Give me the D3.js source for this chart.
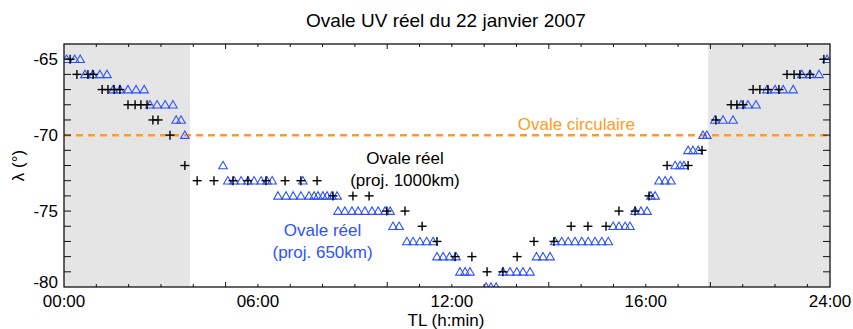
<!DOCTYPE html>
<html>
<head>
<meta charset="utf-8">
<script src="https://cdn.jsdelivr.net/npm/d3@7"></script>
<style>
  html, body { margin: 0; padding: 0; background: #fff; }
  text { font-family: "Liberation Sans", Arial, Helvetica, sans-serif; }
</style>
</head>
<body>
<svg id="chart" width="853" height="329"></svg>
<script>
// Local time (hours) and latitude (deg) of the oval boundary, projection at 1000 km
const tl1000 = [
  0.19,
  0.40, 0.74, 0.90,
  1.18, 1.36, 1.55, 1.73,
  1.98, 2.20, 2.38, 2.57,
  2.75, 2.91,
  3.28,
  3.74,
  4.12, 4.64, 5.23, 5.69, 6.25, 6.84, 7.33, 7.83,
  8.32, 8.94, 9.44,
  9.99, 10.55,
  11.08,
  11.54,
  12.10, 12.62,
  13.09, 13.58,
  14.02,
  14.54, 15.16,
  15.69, 16.21, 16.77,
  17.17, 17.67,
  18.10,
  18.66, 19.31,
  19.74,
  20.17,
  20.64, 20.82, 21.01,
  21.32, 21.53, 21.78, 22.12,
  22.37, 22.59, 22.77, 23.08,
  23.51
];
const lat1000 = [
  -65,
  -66, -66, -66,
  -67, -67, -67, -67,
  -68, -68, -68, -68,
  -69, -69,
  -70,
  -72,
  -73, -73, -73, -73, -73, -73, -73, -73,
  -74, -74, -74,
  -75, -75,
  -76,
  -77,
  -78, -78,
  -79, -79,
  -78,
  -77, -77,
  -76, -76, -76,
  -75, -75,
  -74,
  -72, -72,
  -71,
  -69,
  -68, -68, -68,
  -67, -67, -67, -67,
  -66, -66, -66, -66,
  -65
];

// Same boundary, projection at 650 km
const tl650 = [
  0.08, 0.33, 0.50,
  0.65, 0.89, 1.11, 1.33,
  1.52, 1.73, 1.98, 2.23, 2.48,
  2.66, 2.88, 3.13, 3.37,
  3.47, 3.62,
  3.74,
  4.92,
  5.07, 5.26, 5.48, 5.69, 5.88, 6.10, 6.28, 6.44, 7.39,
  6.62, 6.87, 7.09, 7.33, 7.58, 7.74, 7.86, 8.01, 8.14, 8.29, 8.45,
  8.48, 8.69, 8.91, 9.10, 9.31, 9.53, 9.72, 9.93, 10.09,
  10.18, 10.37,
  10.61, 10.80, 11.01, 11.22, 11.42,
  11.54, 11.73, 11.93, 12.13,
  12.25, 12.41, 12.56,
  13.06, 13.21, 13.37,
  13.58, 13.80, 14.01, 14.20, 14.42,
  14.62, 14.82, 15.04,
  15.19, 15.40, 15.60, 15.81, 16.02, 16.22, 16.43, 16.64, 16.84,
  16.99, 17.17, 17.36, 17.51,
  17.67, 17.85, 18.04,
  18.16, 18.29,
  18.41, 18.60, 18.78,
  18.91, 19.06, 19.18,
  19.31, 19.46, 19.62,
  19.77, 19.89,
  20.14, 20.39, 20.70,
  20.95, 21.16, 21.41,
  21.75, 22.00, 22.25, 22.56,
  22.83, 23.08, 23.36,
  23.61
];
const lat650 = [
  -65, -65, -65,
  -66, -66, -66, -66,
  -67, -67, -67, -67, -67,
  -68, -68, -68, -68,
  -69, -69,
  -70,
  -72,
  -73, -73, -73, -73, -73, -73, -73, -73, -73,
  -74, -74, -74, -74, -74, -74, -74, -74, -74, -74, -74,
  -75, -75, -75, -75, -75, -75, -75, -75, -75,
  -76, -76,
  -77, -77, -77, -77, -77,
  -78, -78, -78, -78,
  -79, -79, -79,
  -80, -80, -80,
  -79, -79, -79, -79, -79,
  -78, -78, -78,
  -77, -77, -77, -77, -77, -77, -77, -77, -77,
  -76, -76, -76, -76,
  -75, -75, -75,
  -74, -74,
  -73, -73, -73,
  -72, -72, -72,
  -71, -71, -71,
  -70, -70,
  -69, -69, -69,
  -68, -68, -68,
  -67, -67, -67, -67,
  -66, -66, -66,
  -65
];

// Circular oval latitude
const circularLat = -70;

// Shaded local-time intervals (hours)
const shadeStart = [0, 19.93];
const shadeEnd = [3.9, 23.7];

// Axis ticks and labels
const xTickLabelHours = [0, 6, 12, 18, 24];
const xTickLabels = ["00:00", "06:00", "12:00", "16:00", "24:00"];
const yTickLabelValues = [-65, -70, -75, -80];

const title = "Ovale UV réel du 22 janvier 2007";
const xTitle = "TL (h:min)";
const yTitle = "λ (°)";

// ---- drawing ----
const W = 853, H = 329;
const margin = { left: 64, right: 23, top: 44, bottom: 42 };
const x0 = margin.left, x1 = W - margin.right;
const y0 = margin.top, y1 = H - margin.bottom;

const xMax = 23.7;
const x = d3.scaleLinear().domain([0, xMax]).range([x0, x1]);
const y = d3.scaleLinear().domain([-80, -64]).range([y1, y0]);

const BLUE = "#2f52ff";
const ORANGE = "#ff9b26";
const GREY = "#e5e5e5";
const FS = 17;

const svg = d3.select("#chart");

svg.append("defs").append("clipPath").attr("id", "plot-clip")
  .append("rect").attr("x", x0).attr("y", y0).attr("width", x1 - x0).attr("height", y1 - y0);

// shaded bands
svg.append("g").selectAll("rect")
  .data(d3.range(shadeStart.length))
  .join("rect")
  .attr("x", i => x(shadeStart[i]))
  .attr("width", i => x(shadeEnd[i]) - x(shadeStart[i]))
  .attr("y", y0)
  .attr("height", y1 - y0)
  .attr("fill", GREY);

// circular oval reference line
svg.append("line")
  .attr("x1", x0).attr("x2", x1)
  .attr("y1", y(circularLat)).attr("y2", y(circularLat))
  .attr("stroke", ORANGE)
  .attr("stroke-width", 2.5)
  .attr("stroke-dasharray", "7,5");

const marks = svg.append("g").attr("clip-path", "url(#plot-clip)");

// 650 km points: open triangles
const tri = d3.symbol().type(d3.symbolTriangle).size(32);
marks.append("g").selectAll("path")
  .data(d3.range(tl650.length))
  .join("path")
  .attr("transform", i => `translate(${x(tl650[i])},${y(lat650[i]) + 0.8})`)
  .attr("d", tri)
  .attr("fill", "none")
  .attr("stroke", BLUE)
  .attr("stroke-width", 1.1);

// 1000 km points: plus signs
const half = 4.5;
const crosses = marks.append("g").selectAll("g")
  .data(d3.range(tl1000.length))
  .join("g")
  .attr("transform", i => `translate(${x(tl1000[i])},${y(lat1000[i])})`);
crosses.append("line").attr("x1", -half).attr("x2", half).attr("y1", 0).attr("y2", 0);
crosses.append("line").attr("x1", 0).attr("x2", 0).attr("y1", -half).attr("y2", half);
crosses.selectAll("line").attr("stroke", "#000").attr("stroke-width", 1.4);

// frame
svg.append("rect")
  .attr("x", x0).attr("y", y0).attr("width", x1 - x0).attr("height", y1 - y0)
  .attr("fill", "none").attr("stroke", "#111").attr("stroke-width", 1.3);

// x ticks: hourly minor, every 5 h major, bottom and top
const xTickVals = d3.range(1, Math.floor(xMax) + 1);
const axG = svg.append("g").attr("stroke", "#111").attr("stroke-width", 1);
xTickVals.forEach(v => {
  const len = v % 5 === 0 ? 5 : 3;
  axG.append("line").attr("x1", x(v)).attr("x2", x(v)).attr("y1", y1).attr("y2", y1 - len);
  axG.append("line").attr("x1", x(v)).attr("x2", x(v)).attr("y1", y0).attr("y2", y0 + len);
});
// y ticks every degree, left and right
d3.range(-79, -64).forEach(v => {
  axG.append("line").attr("x1", x0).attr("x2", x0 + 7).attr("y1", y(v)).attr("y2", y(v));
  axG.append("line").attr("x1", x1).attr("x2", x1 - 7).attr("y1", y(v)).attr("y2", y(v));
});

// x tick labels
svg.append("g").selectAll("text")
  .data(d3.range(xTickLabels.length))
  .join("text")
  .attr("x", i => x(Math.min(xTickLabelHours[i], xMax)))
  .attr("y", y1 + 20)
  .attr("text-anchor", "middle")
  .attr("font-size", FS)
  .text(i => xTickLabels[i]);

// y tick labels
svg.append("g").selectAll("text")
  .data(yTickLabelValues)
  .join("text")
  .attr("x", x0 - 6)
  .attr("y", v => Math.min(y(v), y1 - 5))
  .attr("dy", "0.35em")
  .attr("text-anchor", "end")
  .attr("font-size", FS)
  .text(v => v);

// titles
svg.append("text").attr("x", (x0 + x1) / 2 - 1).attr("y", 27)
  .attr("text-anchor", "middle").attr("font-size", 19).text(title);
svg.append("text").attr("x", (x0 + x1) / 2 - 1).attr("y", 326)
  .attr("text-anchor", "middle").attr("font-size", FS).text(xTitle);
svg.append("text")
  .attr("transform", `translate(24,${(y0 + y1) / 2}) rotate(-90)`)
  .attr("text-anchor", "middle").attr("font-size", FS).text(yTitle);

// annotations
svg.append("text").attr("x", x(15.85)).attr("y", y(-69.64))
  .attr("text-anchor", "middle").attr("font-size", FS).attr("fill", ORANGE)
  .text("Ovale circulaire");

const noteBlack = svg.append("text").attr("text-anchor", "middle").attr("font-size", FS).attr("fill", "#000");
noteBlack.append("tspan").attr("x", x(10.55)).attr("y", y(-71.93)).text("Ovale réel");
noteBlack.append("tspan").attr("x", x(10.55)).attr("dy", 22).text("(proj. 1000km)");

const noteBlue = svg.append("text").attr("text-anchor", "middle").attr("font-size", FS).attr("fill", BLUE);
noteBlue.append("tspan").attr("x", x(8.0)).attr("y", y(-76.66)).text("Ovale réel");
noteBlue.append("tspan").attr("x", x(8.0)).attr("dy", 22).text("(proj. 650km)");
</script>
</body>
</html>
